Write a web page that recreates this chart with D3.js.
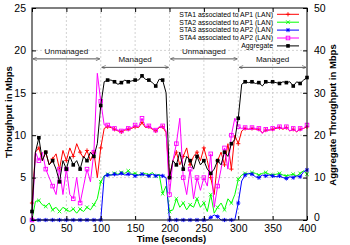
<!DOCTYPE html>
<html>
<head>
<meta charset="utf-8">
<script src="https://cdn.jsdelivr.net/npm/d3@7"></script>
<style>
  body { margin: 0; background: #fff; }
  text { font-family: "Liberation Sans", Arial, sans-serif; }
</style>
</head>
<body>
<script>
// data (time in seconds, throughput in Mbps)
var times = [0,5,10,15,20,25,30,35,40,45,50,55,60,65,70,75,80,85,90,95,
  100,105,110,115,120,125,130,135,140,145,150,155,160,165,170,175,180,185,190,195,
  200,205,210,215,220,225,230,235,240,245,250,255,260,265,270,275,280,285,290,295,
  300,305,310,315,320,325,330,335,340,345,350,355,360,365,370,375,380,385,390,395,400];

var sta1 = [2,8,8.5,7,8,6.5,7.2,7.8,6,8.2,7,8.5,7.5,9,8,7.3,8.2,7,8,5,
  8.5,10.8,11,10.9,10.7,10.5,10.4,10.6,10.7,10.8,11,10.9,11.5,10.9,11,10.7,10.5,10.9,11,10.3,
  5,7,8,6.5,7.5,8.5,6.5,7.5,8,7,8.5,7,5,3,7,8,6.5,9,6,10,
  9,10.5,10.8,10.7,10.8,10.7,10.7,10.3,10.6,10.6,10.7,10.8,10.9,10.7,10.9,10.5,10.7,10.4,10.7,10.8,11];

var sta2 = [0,2.2,2.3,1.8,1.6,2,1.2,1.5,1,1.5,1.2,1,1.3,0.8,1.3,1,1.5,1.2,1.8,2.5,
  4.5,5.2,5.4,5.3,5.5,5.4,5.6,5.5,5.8,5.4,5.5,5.3,5.4,5.5,5.3,5.6,5.2,5.4,3.1,4,
  1,1.2,2.5,1.5,2,1.2,1.8,1.5,2.5,1.5,2,1,3,0.8,1.5,2,1.2,2.5,2,3,
  4.8,5.3,5.5,5.4,5.6,5.5,5.3,5.5,5.6,5.4,5.3,5.4,5.5,5.3,5.2,5.3,5.4,5.2,5.5,5.8,5.4];

var sta3 = [0,0,0,0,0,0,0,0,0,0,0,0,0,0,0,0,0,0,0,0,
  0,5.2,5.3,5.3,5.4,5.3,5.5,5.3,5.4,5.4,5.2,5.3,5.4,5.3,5.2,5.4,5.2,5.3,5.2,5.0,
  0,0,0,0,0,0,0,0,0,0,0,0,0.3,0.6,0.4,0,0,0,0,0,
  2,4.6,5.3,5.5,5.4,5.1,5.0,5.3,5.2,5.3,5.2,5.1,5.2,5.0,4.9,5.1,5.0,5.2,5.1,5.7,5.9];

var sta4 = [0,8,7,8,6,5,4,3,6,3,6,3,2.5,5,2,4,6,4.5,8,17.3,
  14,11.2,11.2,11,10.8,10.6,10.5,10.7,10.8,10.9,11.2,11,12,11,11.1,10.8,10.6,11,11.1,10.5,
  3,7,9,12,5,3,6,2.5,5,3.5,5,4,7.8,1.5,4,6,8.5,6,10,12,
  11,10.8,10.9,10.7,10.9,10.8,10.8,10.2,10.7,10.6,10.8,10.9,11,10.8,11,10.5,10.8,10.4,10.8,10.8,11.2];

// aggregate is read on the right axis
var aggregate = [2,16,19.4,14,16,13,14,12,9,14,12,15,13,14,12,15,14,16,15,18,
  27,32.6,33,33,32.6,32,32.4,33,32.6,32.8,33,33,34,33.2,33,32.4,31.6,33.2,33,30,
  10,14,13,16,12,15,14,12,15,13,14,12,11,12,14,13,16,15,18,19,
  24,32,32.6,32.4,32.6,32.2,32.4,31.6,32.6,32.4,32.6,32.4,32.2,32.6,32.4,32.6,31.6,32.6,32.2,33,33.6];

var xTicks = [0,50,100,150,200,250,300,350,400];
var yTicks = [0,5,10,15,20,25];
var y2Ticks = [0,10,20,30,40,50];

var seriesNames = ["STA1 associated to AP1 (LAN)", "STA2 associated to AP1 (LAN)",
  "STA3 associated to AP2 (LAN)", "STA4 associated to AP2 (LAN)", "Aggregate"];
var seriesColors = ["#ff0000", "#00ff00", "#0000ff", "#ff00ff", "#000000"];
var seriesShapes = ["plus", "cross", "star", "square", "fsquare"];

// phases: [start, end, label, level on left axis]
var phases = [[0,100,"Unmanaged",19],[100,200,"Managed",18],[200,300,"Unmanaged",19],[300,400,"Managed",18]];

// dimensions
var margin = {top: 8, right: 43, bottom: 25, left: 32},
    width = 350 - margin.left - margin.right,
    height = 245 - margin.top - margin.bottom;

var x = d3.scaleLinear().domain([0,400]).range([0,width]);
var y = d3.scaleLinear().domain([0,25]).range([height,0]);
var y2 = d3.scaleLinear().domain([0,50]).range([height,0]);

var svg = d3.select("body").append("svg")
    .attr("width", 350)
    .attr("height", 245)
  .append("g")
    .attr("transform", "translate(" + margin.left + "," + margin.top + ")");

// grid
svg.selectAll(".gx").data(xTicks.slice(1,-1)).enter().append("line")
    .attr("x1", function(d) { return x(d); }).attr("x2", function(d) { return x(d); })
    .attr("y1", 0).attr("y2", height)
    .style("stroke", "#c8c8c8").style("stroke-dasharray", "2,2").style("stroke-width", 0.8);
svg.selectAll(".gy").data(yTicks.slice(1,-1)).enter().append("line")
    .attr("y1", function(d) { return y(d); }).attr("y2", function(d) { return y(d); })
    .attr("x1", 0).attr("x2", width)
    .style("stroke", "#c8c8c8").style("stroke-dasharray", "2,2").style("stroke-width", 0.8);

// symbol drawing
function marker(g, shape, color, px, py) {
  var s = 2.1;
  if (shape == "plus" || shape == "star") {
    g.append("path").attr("d", "M" + (px-s) + "," + py + "H" + (px+s) + "M" + px + "," + (py-s) + "V" + (py+s))
      .style("stroke", color).style("stroke-width", 0.9);
  }
  if (shape == "cross" || shape == "star") {
    var c = shape == "star" ? 1.6 : 1.8;
    g.append("path").attr("d", "M" + (px-c) + "," + (py-c) + "L" + (px+c) + "," + (py+c) + "M" + (px-c) + "," + (py+c) + "L" + (px+c) + "," + (py-c))
      .style("stroke", color).style("stroke-width", 0.9);
  }
  if (shape == "square") {
    g.append("rect").attr("x", px-1.8).attr("y", py-1.8).attr("width", 3.6).attr("height", 3.6)
      .style("fill", "none").style("stroke", color).style("stroke-width", 0.9);
  }
  if (shape == "fsquare") {
    g.append("rect").attr("x", px-1.8).attr("y", py-1.8).attr("width", 3.6).attr("height", 3.6)
      .style("fill", color);
  }
}

var allSeries = [sta1, sta2, sta3, sta4, aggregate];
allSeries.forEach(function(vals, i) {
  var sc = i == 4 ? y2 : y;
  var data = times.map(function(t, k) { return {t: t, v: vals[k]}; });
  var line = d3.line()
      .x(function(d) { return x(d.t); })
      .y(function(d) { return sc(d.v); });
  var g = svg.append("g");
  g.append("path")
      .datum(data)
      .attr("d", line)
      .style("fill", "none")
      .style("stroke", seriesColors[i])
      .style("stroke-width", 1);
  data.forEach(function(d, k) {
    if (k % 2 == 0) marker(g, seriesShapes[i], seriesColors[i], x(d.t), sc(d.v));
  });
});

// phase arrows
svg.append("defs").append("marker")
    .attr("id", "ah").attr("viewBox", "0 0 10 10").attr("refX", 10).attr("refY", 5)
    .attr("markerWidth", 6).attr("markerHeight", 4).attr("orient", "auto-start-reverse")
    .attr("markerUnits", "userSpaceOnUse")
  .append("path").attr("d", "M0,0L10,5L0,10").style("fill", "none").style("stroke", "#555").style("stroke-width", 1.5);

phases.forEach(function(p) {
  svg.append("line")
      .attr("x1", x(p[0]) + 1).attr("x2", x(p[1]) - 1)
      .attr("y1", y(p[3])).attr("y2", y(p[3]))
      .style("stroke", "#555").style("stroke-width", 1)
      .attr("marker-start", "url(#ah)").attr("marker-end", "url(#ah)");
  svg.append("text")
      .attr("x", x((p[0] + p[1]) / 2))
      .attr("y", y(p[3]) - 5)
      .attr("text-anchor", "middle")
      .style("font-size", "8px")
      .style("fill", "#111")
      .text(p[2]);
});

// frame
svg.append("rect").attr("width", width).attr("height", height)
    .style("fill", "none").style("stroke", "#000").style("stroke-width", 1);

// Add the X Axis
svg.append("g")
    .attr("transform", "translate(0," + height + ")")
    .call(d3.axisBottom(x).tickValues(xTicks).tickSizeInner(-4).tickSizeOuter(0).tickPadding(5))
    .call(function(g) { g.select(".domain").remove(); g.selectAll("text").style("font-size", "10.5px"); });
svg.append("g")
    .call(d3.axisTop(x).tickValues(xTicks).tickSizeInner(-4).tickSizeOuter(0).tickFormat(""))
    .call(function(g) { g.select(".domain").remove(); });

// Add the Y Axis
svg.append("g")
    .call(d3.axisLeft(y).tickValues(yTicks).tickSizeInner(-4).tickSizeOuter(0).tickPadding(6))
    .call(function(g) { g.select(".domain").remove(); g.selectAll("text").style("font-size", "10.5px"); });

// Add the Y2 Axis
svg.append("g")
    .attr("transform", "translate(" + width + ",0)")
    .call(d3.axisRight(y2).tickValues(y2Ticks).tickSizeInner(-4).tickSizeOuter(0).tickPadding(7))
    .call(function(g) {
      g.select(".domain").remove();
      g.selectAll("text").style("font-size", "10.5px");
      // lift the bottom label a little so it clears "400"
      g.selectAll("text").filter(function(d) { return d == 0; }).attr("dy", "0.05em");
    });

// titles
svg.append("text")
    .attr("x", width / 2 + 2).attr("y", height + 22)
    .attr("text-anchor", "middle")
    .style("font-size", "9.5px").style("font-weight", "bold")
    .text("Time (seconds)");
svg.append("text")
    .attr("transform", "translate(" + (-20) + "," + (height / 2 - 2) + ") rotate(-90)")
    .attr("text-anchor", "middle")
    .style("font-size", "9.5px").style("font-weight", "bold")
    .text("Throughput in Mbps");
svg.append("text")
    .attr("transform", "translate(" + (width + 29) + "," + (height / 2 + 1) + ") rotate(-90)")
    .attr("text-anchor", "middle")
    .style("font-size", "9.5px").style("font-weight", "bold")
    .text("Aggregate Throughput in Mbps");

// legend
var legend = svg.append("g").attr("transform", "translate(" + (width - 66) + ",6.3)");
seriesNames.forEach(function(name, i) {
  var ly = i * 7.9;
  legend.append("text")
      .attr("x", 32).attr("y", ly + 2.4)
      .attr("text-anchor", "end")
      .style("font-size", "6.9px")
      .text(name);
  legend.append("line")
      .attr("x1", 36).attr("x2", 58).attr("y1", ly).attr("y2", ly)
      .style("stroke", seriesColors[i]).style("stroke-width", 1);
  marker(legend, seriesShapes[i], seriesColors[i], 47, ly);
});
</script>
</body>
</html>
